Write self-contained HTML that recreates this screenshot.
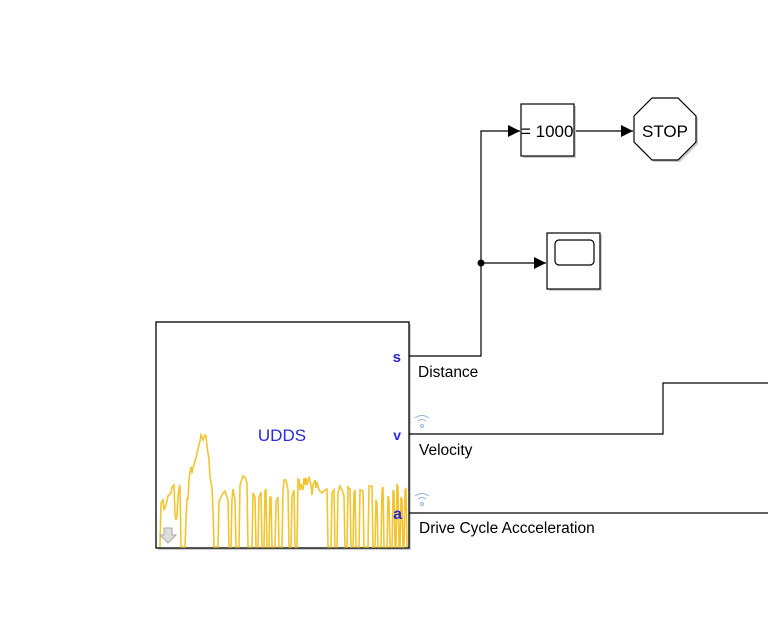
<!DOCTYPE html>
<html><head><style>
html,body{margin:0;padding:0;background:#fff;}
svg{display:block;font-family:"Liberation Sans",sans-serif;}
</style></head><body>
<svg width="768" height="619" viewBox="0 0 768 619">
<defs>
<marker id="ar" markerWidth="12" markerHeight="12" refX="12" refY="6" orient="auto" markerUnits="userSpaceOnUse">
<path d="M0,0 L12,6 L0,12 Z" fill="#000"/>
</marker>
</defs>
<rect x="158" y="324" width="253" height="226" fill="#ccc"/>
<rect x="156" y="322" width="253" height="226" fill="#fff" stroke="#000" stroke-width="1.3"/>
<polyline fill="none" stroke="#f2c530" stroke-width="1.6" points="160,547 161,503 163,500 164,510 166,505 168,496 171,493 172,487 174,485 175,515 176,520 177,515 178,497 179,489 180,485 181,547 185,547 186,520 187,499 188,499 189,480 190,472 191,467 192,473 193,468 196,458 198,449 200,441 201,435 203,440 205,435 206,436 207,446 209,460 210,476 212,489 213,510 214,547 218,547 219,502 221,497 223,493 225,491 227,497 228,500 229,547 231,547 232,499 233,489 235,500 236,547 239,547 240,485 243,476 245,477 247,483 248,547 252,547 253,493 255,497 256,547 258,547 259,497 261,492 262,547 264,547 265,491 266,489 267,547 269,547 270,497 271,497 272,547 275,547 276,502 278,497 279,547 282,547 283,490 284,480 286,480 288,490 289,547 291,547 292,497 294,490 295,547 297,547 298,479 299,480 300,490 301,484 303,490 304,478 305,485 306,478 307,485 309,477 311,485 312,495 313,485 315,480 316,488 317,482 319,490 320,491 322,493 325,490 327,489 328,547 331,547 332,493 334,490 335,547 337,547 338,493 340,486 342,490 344,496 345,547 347,547 348,487 350,489 351,547 353,547 354,493 355,490 356,547 359,547 360,490 363,491 364,547 368,547 369,486 372,486 373,547 375,547 376,500 377,503 378,547 381,547 382,490 383,487 384,547 387,547 388,496 389,500 390,547 392,547 393,491 394,491 395,547 396,547 397,484 398,487 399,547 400,547 401,497 402,500 403,547 404,547 405,490 406,489 407,547"/>
<path d="M164,528 h8 v7 h4 l-8,8 l-8,-8 h4 z" fill="#ddd" stroke="#aaa" stroke-width="1"/>
<text x="282" y="441" font-size="17" fill="#2b2bd6" text-anchor="middle">UDDS</text>
<text x="401" y="362" font-size="15" fill="#2b2bd6" text-anchor="end" font-weight="bold">s</text>
<text x="401" y="440" font-size="14" fill="#2b2bd6" text-anchor="end" font-weight="bold">v</text>
<text x="402" y="519" font-size="16" fill="#2b2bd6" text-anchor="end" font-weight="bold">a</text>
<g fill="none" stroke="#8fb4e0" stroke-width="1">
<path d="M415,418 q7,-5 14,0"/><path d="M418,421 q4,-3 8,0"/><circle cx="422" cy="426" r="1.5"/>
<path d="M415,496 q7,-5 14,0"/><path d="M418,499 q4,-3 8,0"/><circle cx="422" cy="504" r="1.5"/>
</g>
<g fill="none" stroke="#000" stroke-width="1.2">
<polyline points="409,356 481,356 481,131 520,131" marker-end="url(#ar)"/>
<line x1="481" y1="263" x2="546" y2="263" marker-end="url(#ar)"/>
<line x1="574" y1="131" x2="633" y2="131" marker-end="url(#ar)"/>
<polyline points="409,434 663,434 663,383 768,383"/>
<line x1="409" y1="513" x2="768" y2="513"/>
</g>
<circle cx="481" cy="263" r="3.5" fill="#000"/>
<text x="418" y="377" font-size="15.5">Distance</text>
<text x="419" y="455" font-size="15.5">Velocity</text>
<text x="419" y="533" font-size="15.5">Drive Cycle Accceleration</text>
<rect x="523" y="106" width="53" height="52" fill="#ccc"/>
<rect x="521" y="104" width="53" height="52" fill="#fff" stroke="#000" stroke-width="1.2"/>
<text x="521" y="137" font-size="17">= 1000</text>
<polygon points="654,100 680,100 698,118 698,144 680,162 654,162 636,144 636,118" fill="#ccc"/>
<polygon points="652,98 678,98 696,116 696,142 678,160 652,160 634,142 634,116" fill="#fff" stroke="#000" stroke-width="1.2"/>
<text x="665" y="137" font-size="17" text-anchor="middle">STOP</text>
<rect x="549" y="235" width="53" height="56" fill="#ccc"/>
<rect x="547" y="233" width="53" height="56" fill="#fff" stroke="#000" stroke-width="1.2"/>
<rect x="555" y="240" width="39" height="25" rx="4" fill="#fff" stroke="#000" stroke-width="1.2"/>
</svg>
</body></html>
